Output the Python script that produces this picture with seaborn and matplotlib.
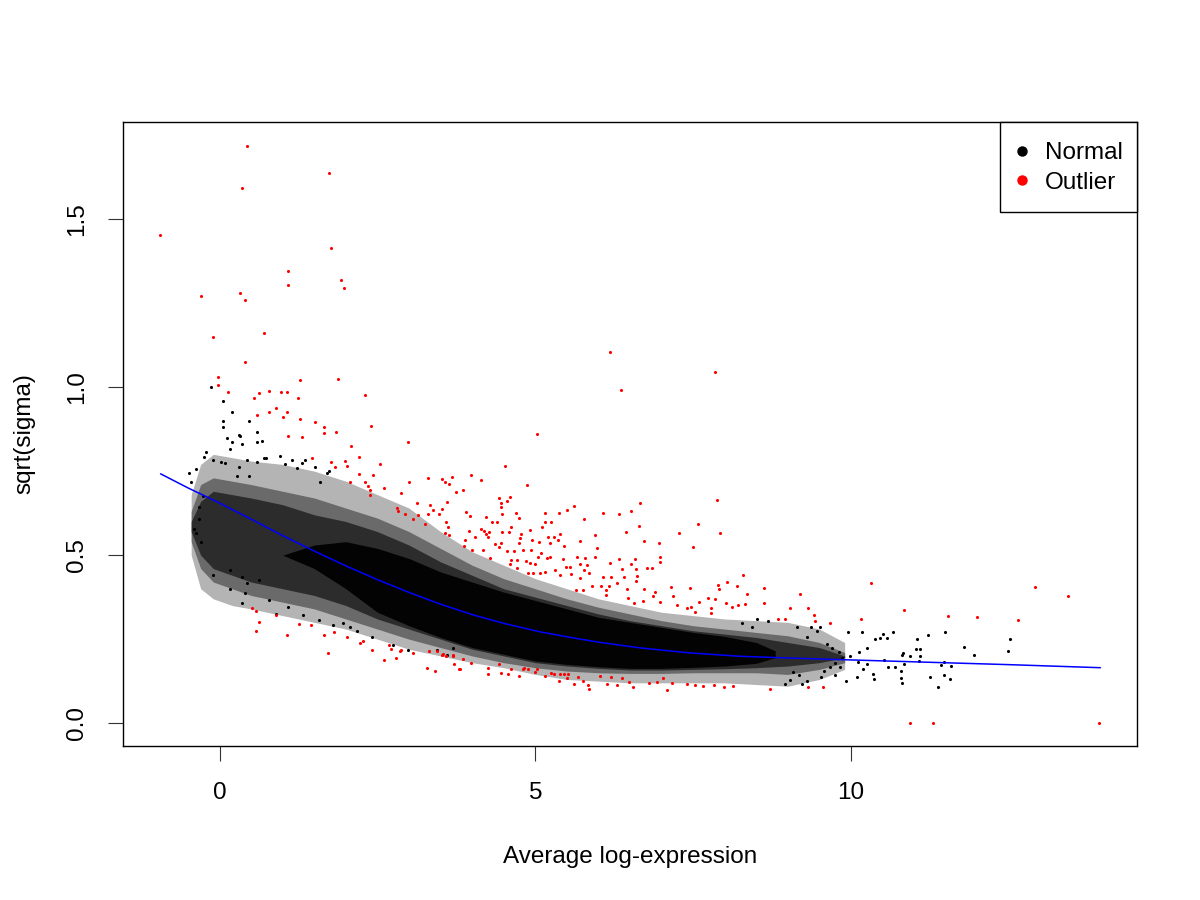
import numpy as np
import pandas as pd
import seaborn as sns
import matplotlib
matplotlib.use("Agg")
import matplotlib.pyplot as plt
from matplotlib.lines import Line2D
from matplotlib.patches import Rectangle

# ---------------- data ----------------
# dense cloud of "Normal" genes, described by density envelopes (x, lower, upper)
env_x = [-0.45, -0.3, -0.1, 0.2, 0.5, 1.0, 1.5, 2.0, 2.5, 3.0, 3.5, 4.0, 4.5, 5.0, 5.5, 6.0,
         6.5, 7.0, 7.5, 8.0, 8.5, 9.0, 9.5, 9.9]
outer_lo = [0.50, 0.40, 0.37, 0.35, 0.34, 0.32, 0.30, 0.28, 0.25, 0.22, 0.20, 0.18, 0.165, 0.145,
            0.13, 0.125, 0.12, 0.12, 0.12, 0.12, 0.115, 0.11, 0.13, 0.16]
outer_hi = [0.68, 0.77, 0.80, 0.79, 0.78, 0.77, 0.75, 0.72, 0.68, 0.64, 0.57, 0.51, 0.47, 0.43,
            0.40, 0.37, 0.35, 0.33, 0.32, 0.31, 0.305, 0.30, 0.28, 0.24]
mid_lo = [0.54, 0.46, 0.42, 0.40, 0.38, 0.36, 0.34, 0.31, 0.28, 0.25, 0.225, 0.20, 0.18, 0.165,
          0.155, 0.15, 0.148, 0.148, 0.15, 0.15, 0.15, 0.145, 0.16, 0.18]
mid_hi = [0.63, 0.71, 0.73, 0.72, 0.71, 0.69, 0.67, 0.64, 0.61, 0.57, 0.52, 0.47, 0.43, 0.40,
          0.37, 0.345, 0.325, 0.305, 0.29, 0.28, 0.27, 0.26, 0.24, 0.21]
inner_lo = [0.57, 0.50, 0.46, 0.44, 0.42, 0.40, 0.38, 0.35, 0.31, 0.28, 0.25, 0.22, 0.20, 0.18,
            0.17, 0.163, 0.158, 0.158, 0.16, 0.162, 0.165, 0.17, 0.18, 0.195]
inner_hi = [0.60, 0.66, 0.69, 0.68, 0.67, 0.65, 0.62, 0.60, 0.57, 0.53, 0.48, 0.44, 0.40, 0.375,
            0.35, 0.325, 0.305, 0.29, 0.275, 0.265, 0.255, 0.24, 0.225, 0.20]
core_x = [1.0, 1.5, 2.0, 2.5, 3.0, 3.5, 4.0, 4.5, 5.0, 5.5, 6.0, 6.5, 7.0, 7.5, 8.0, 8.5, 8.8]
core_lo = [0.50, 0.46, 0.40, 0.33, 0.29, 0.255, 0.225, 0.205, 0.185, 0.175, 0.168, 0.163, 0.163,
           0.166, 0.17, 0.178, 0.195]
core_hi = [0.50, 0.53, 0.54, 0.52, 0.49, 0.45, 0.42, 0.39, 0.365, 0.34, 0.315, 0.30, 0.285,
           0.27, 0.258, 0.24, 0.215]

# sparse "Normal" points around the cloud
normal_pts = [
    (-0.13, 1.0), (0.06, 0.958), (0.19, 0.925), (0.05, 0.90), (0.46, 0.90), (0.05, 0.88),
    (0.60, 0.866), (0.11, 0.85), (0.19, 0.836), (0.17, 0.815), (0.32, 0.854), (0.36, 0.830),
    (0.59, 0.836), (0.67, 0.839), (-0.21, 0.807), (-0.25, 0.792), (-0.10, 0.783), (-0.38, 0.756),
    (-0.49, 0.744), (-0.46, 0.717), (-0.27, 0.676), (-0.33, 0.643), (-0.40, 0.577), (-0.38, 0.565),
    (-0.29, 0.539), (-0.32, 0.607), (0.95, 0.795), (1.14, 0.783), (1.36, 0.783), (0.74, 0.789),
    (1.22, 0.759), (1.51, 0.762), (1.70, 0.744), (0.46, 0.735), (0.27, 0.735), (0.30, 0.857),
    (0.02, 0.777), (0.08, 0.774), (0.30, 0.762), (0.43, 0.783), (0.60, 0.777), (0.71, 0.789),
    (1.03, 0.771), (1.30, 0.774), (1.59, 0.717), (1.74, 0.750),
    (-0.11, 0.44), (0.17, 0.40), (0.41, 0.387), (0.36, 0.357), (0.79, 0.366), (0.90, 0.324),
    (1.08, 0.345), (1.32, 0.321), (1.58, 0.307), (1.79, 0.292), (2.06, 0.286), (2.17, 0.274),
    (1.95, 0.298), (2.42, 0.256), (2.74, 0.232), (2.98, 0.217), (3.44, 0.217), (3.60, 0.202),
    (3.69, 0.223), (0.36, 0.435), (0.43, 0.417), (0.63, 0.426), (0.16, 0.455),
    (9.95, 0.271), (10.17, 0.271), (10.38, 0.25), (10.46, 0.253), (10.57, 0.253), (10.51, 0.265),
    (10.67, 0.271), (11.05, 0.25), (11.22, 0.262), (11.49, 0.271), (11.79, 0.226), (11.95, 0.202),
    (12.49, 0.214), (12.52, 0.25), (11.03, 0.220), (11.09, 0.220), (10.82, 0.208), (10.81, 0.202),
    (10.93, 0.199), (11.09, 0.199), (11.08, 0.185), (11.47, 0.182), (11.43, 0.173), (11.58, 0.170),
    (10.84, 0.176), (10.70, 0.167), (10.59, 0.167), (10.79, 0.155), (10.35, 0.146), (10.36, 0.131),
    (10.10, 0.137), (9.92, 0.125), (10.19, 0.161), (10.25, 0.176), (10.11, 0.182), (10.52, 0.187),
    (10.81, 0.119), (10.79, 0.134), (11.25, 0.137), (11.38, 0.107), (11.47, 0.143), (11.57, 0.131),
    (10.25, 0.223), (10.13, 0.211), (9.98, 0.199), (9.86, 0.193), (9.75, 0.143),
    (9.62, 0.235), (9.70, 0.223), (9.81, 0.211), (9.75, 0.179), (9.67, 0.167), (9.83, 0.167),
    (9.57, 0.155), (9.52, 0.137), (9.30, 0.125), (9.51, 0.286), (9.46, 0.274), (9.37, 0.286),
    (9.30, 0.256), (9.18, 0.143), (9.03, 0.128), (8.95, 0.116), (9.22, 0.116), (9.08, 0.152),
    (9.14, 0.286), (8.51, 0.310), (8.68, 0.304), (8.27, 0.298), (8.43, 0.286),
]

# "Outlier" genes (red)
outlier_pts = [
    (0.44, 1.717), (1.74, 1.637), (0.35, 1.592), (-0.95, 1.452), (1.76, 1.414), (1.08, 1.345),
    (1.08, 1.304), (1.93, 1.318), (1.97, 1.295), (-0.30, 1.271), (0.32, 1.280), (0.41, 1.259),
    (-0.10, 1.149), (0.70, 1.161), (0.41, 1.074), (-0.03, 1.030), (-0.03, 1.006), (0.13, 0.985),
    (1.27, 1.021), (1.87, 1.024), (2.31, 0.976), (0.54, 0.967), (0.63, 0.982), (0.79, 0.988),
    (0.98, 0.985), (1.06, 0.985), (1.24, 0.967), (0.90, 0.938), (1.06, 0.926), (0.78, 0.926),
    (0.60, 0.917), (1.00, 0.911), (1.27, 0.905), (1.51, 0.896), (1.65, 0.881), (2.39, 0.884),
    (1.08, 0.854), (1.30, 0.851), (1.65, 0.863), (1.84, 0.866), (2.08, 0.824), (2.20, 0.792),
    (1.47, 0.789), (1.76, 0.777), (1.98, 0.780), (1.82, 0.762), (2.01, 0.765), (2.20, 0.741),
    (2.06, 0.717), (2.98, 0.836), (2.54, 0.771), (2.31, 0.717), (2.35, 0.705), (2.38, 0.693),
    (2.38, 0.679), (2.43, 0.738), (2.61, 0.699), (3.00, 0.717), (3.30, 0.729), (3.53, 0.726),
    (3.57, 0.717), (2.88, 0.685), (3.12, 0.655), (3.34, 0.649), (3.60, 0.658), (2.81, 0.640),
    (2.82, 0.631), (2.93, 0.622), (3.06, 0.607), (3.15, 0.619), (3.30, 0.622), (3.38, 0.634),
    (3.47, 0.622), (3.52, 0.637), (3.58, 0.598), (3.61, 0.583), (3.26, 0.592), (3.57, 0.565),
    (0.52, 0.342), (0.58, 0.333), (0.63, 0.301), (0.57, 0.274), (0.90, 0.321), (1.06, 0.262),
    (1.25, 0.295), (1.44, 0.292), (1.65, 0.262), (1.81, 0.271), (2.01, 0.256), (1.71, 0.208),
    (2.23, 0.238), (2.27, 0.244), (2.41, 0.217), (2.68, 0.232), (2.71, 0.220), (2.85, 0.214),
    (2.88, 0.217), (2.61, 0.188), (2.79, 0.193), (3.06, 0.208), (3.31, 0.214), (3.45, 0.214),
    (3.52, 0.202), (3.58, 0.199), (3.28, 0.164), (3.41, 0.155), (3.69, 0.199), (3.71, 0.176),
    (3.79, 0.161),
    (6.18, 1.104), (7.84, 1.045), (6.35, 0.991), (5.02, 0.860), (4.52, 0.765), (3.68, 0.732),
    (3.98, 0.738), (4.14, 0.723), (3.63, 0.711), (3.74, 0.688), (3.85, 0.693), (4.87, 0.708),
    (4.42, 0.670), (4.60, 0.673), (4.55, 0.661), (4.45, 0.655), (4.45, 0.643), (5.61, 0.646),
    (6.66, 0.655), (7.88, 0.664), (5.50, 0.634), (6.51, 0.631), (3.90, 0.628), (3.96, 0.616),
    (4.22, 0.613), (4.47, 0.622), (4.69, 0.625), (4.74, 0.610), (5.15, 0.625), (5.37, 0.625),
    (6.07, 0.625), (6.32, 0.622), (4.31, 0.598), (4.39, 0.598), (5.15, 0.598), (5.25, 0.598),
    (5.77, 0.607), (3.64, 0.560), (3.95, 0.571), (4.04, 0.554), (4.14, 0.577), (4.18, 0.571),
    (4.22, 0.563), (4.26, 0.568), (4.25, 0.554), (4.47, 0.568), (4.58, 0.568), (4.61, 0.583),
    (4.77, 0.563), (4.75, 0.551), (4.91, 0.574), (5.10, 0.583), (5.20, 0.554), (5.29, 0.554),
    (5.36, 0.545), (5.39, 0.563), (5.94, 0.560), (6.43, 0.568), (6.64, 0.586), (7.27, 0.565),
    (7.58, 0.592), (7.92, 0.565), (6.72, 0.542), (6.96, 0.536), (7.50, 0.524), (5.71, 0.542),
    (5.45, 0.527), (5.97, 0.521), (3.88, 0.545), (3.87, 0.527), (3.99, 0.515), (4.17, 0.515),
    (4.36, 0.533), (4.45, 0.536), (4.42, 0.524), (4.74, 0.536), (4.94, 0.545), (5.06, 0.539),
    (5.23, 0.536), (4.28, 0.491), (4.55, 0.512), (4.66, 0.512), (4.71, 0.485), (4.61, 0.485),
    (4.80, 0.515), (4.93, 0.515), (5.09, 0.506), (5.04, 0.494), (5.18, 0.491), (5.24, 0.494),
    (4.85, 0.482), (4.91, 0.476), (4.99, 0.473), (4.60, 0.473), (4.71, 0.461), (4.88, 0.446),
    (4.96, 0.446), (5.07, 0.446), (5.15, 0.449), (5.31, 0.455), (5.44, 0.488), (5.48, 0.464),
    (5.55, 0.464), (5.66, 0.494), (5.78, 0.491), (5.94, 0.494), (5.71, 0.473), (5.77, 0.455),
    (5.82, 0.470), (6.32, 0.488), (6.58, 0.488), (6.51, 0.473), (6.18, 0.476), (6.37, 0.458),
    (6.59, 0.458), (6.77, 0.461), (6.85, 0.461), (6.97, 0.494), (6.97, 0.479), (5.39, 0.440),
    (5.56, 0.443), (5.71, 0.432), (5.85, 0.446), (6.07, 0.435), (6.20, 0.435), (6.29, 0.417),
    (6.40, 0.435), (6.61, 0.438), (5.64, 0.396), (5.75, 0.396), (5.90, 0.408), (6.04, 0.408),
    (6.12, 0.396), (6.16, 0.408), (6.12, 0.381), (6.45, 0.399), (6.59, 0.423), (6.72, 0.399),
    (6.89, 0.390), (6.47, 0.372), (6.56, 0.357), (6.70, 0.363), (6.86, 0.378), (6.97, 0.360),
    (7.15, 0.405), (7.18, 0.378), (7.45, 0.402), (7.24, 0.351), (7.40, 0.342), (7.46, 0.345),
    (7.53, 0.330), (7.59, 0.360), (7.73, 0.372), (7.78, 0.342), (7.78, 0.327), (7.84, 0.369),
    (7.89, 0.411), (7.91, 0.399), (8.03, 0.420), (8.19, 0.408), (8.29, 0.440), (8.35, 0.384),
    (8.02, 0.357), (8.11, 0.345), (8.21, 0.351), (8.32, 0.354),
    (3.54, 0.205), (3.69, 0.202), (3.80, 0.161), (3.85, 0.190), (3.98, 0.179), (4.25, 0.146),
    (4.25, 0.164), (4.42, 0.176), (4.45, 0.149), (4.56, 0.146), (4.61, 0.161), (4.80, 0.161),
    (4.82, 0.164), (4.88, 0.161), (4.99, 0.152), (5.02, 0.161), (4.74, 0.140), (5.15, 0.140),
    (5.25, 0.149), (5.29, 0.146), (5.39, 0.146), (5.45, 0.146), (5.52, 0.146), (5.37, 0.125),
    (5.50, 0.134), (5.67, 0.137), (5.61, 0.116), (5.75, 0.125), (5.83, 0.113), (5.85, 0.101),
    (6.02, 0.140), (6.13, 0.116), (6.20, 0.137), (6.29, 0.113), (6.37, 0.134), (6.48, 0.122),
    (6.55, 0.107), (6.80, 0.119), (6.93, 0.122), (7.02, 0.134), (7.08, 0.098), (7.16, 0.119),
    (7.40, 0.116), (7.53, 0.113), (7.65, 0.110), (7.83, 0.113), (7.99, 0.107), (8.13, 0.110),
    (8.62, 0.402), (8.62, 0.357), (8.84, 0.310), (8.95, 0.310), (9.19, 0.384), (9.03, 0.342),
    (9.32, 0.342), (9.41, 0.321), (9.43, 0.304), (9.67, 0.298), (10.16, 0.310), (10.32, 0.417),
    (10.84, 0.336), (11.54, 0.318), (12.00, 0.315), (12.65, 0.307), (12.92, 0.405), (13.44, 0.378),
    (8.72, 0.101), (9.32, 0.107), (9.56, 0.107), (10.94, 0.0), (11.30, 0.0), (13.93, 0.0),
]

# lowess trend line
trend_x = [-0.935, -0.5, 0.0, 0.5, 1.0, 1.5, 2.0, 2.5, 3.0, 3.5, 4.0, 4.5, 5.07, 5.5, 6.0,
           6.66, 7.45, 8.24, 9.0, 9.67, 11.09, 12.52, 13.95]
trend_y = [0.742, 0.700, 0.655, 0.607, 0.558, 0.512, 0.468, 0.427, 0.389, 0.354, 0.323, 0.297,
           0.272, 0.257, 0.241, 0.224, 0.209, 0.199, 0.194, 0.190, 0.182, 0.174, 0.165]

x_ticks = [0, 5, 10]
y_ticks = [0.0, 0.5, 1.0, 1.5]
x_label = "Average log-expression"
y_label = "sqrt(sigma)"
legend_labels = ["Normal", "Outlier"]

# ---------------- plotting ----------------
sns.set_style("ticks")
plt.rcParams['font.family'] = ['Liberation Sans', 'DejaVu Sans']
plt.rcParams['text.color'] = 'black'
plt.rcParams['axes.labelcolor'] = 'black'

fig = plt.figure(figsize=(12, 9), dpi=100)
ax = fig.add_axes([123/1200, 1 - 746/900, (1137-123)/1200, (746-122)/900])

ax.fill_between(env_x, outer_lo, outer_hi, color="#b4b4b4", linewidth=0)
ax.fill_between(env_x, mid_lo, mid_hi, color="#6a6a6a", linewidth=0)
ax.fill_between(env_x, inner_lo, inner_hi, color="#2c2c2c", linewidth=0)
ax.fill_between(core_x, core_lo, core_hi, color="#030303", linewidth=0)

normal_df = pd.DataFrame(normal_pts, columns=["x", "y"])
outlier_df = pd.DataFrame(outlier_pts, columns=["x", "y"])
sns.scatterplot(data=normal_df, x="x", y="y", color="black", s=5, linewidth=0, ax=ax, legend=False)
sns.scatterplot(data=outlier_df, x="x", y="y", color="#FF0000", s=5, linewidth=0, ax=ax, legend=False)

trend_df = pd.DataFrame({"x": trend_x, "y": trend_y})
sns.lineplot(data=trend_df, x="x", y="y", color="#0000FF", linewidth=1.1, sort=False,
             estimator=None, ax=ax)

ax.set_xlim(-1.53, 14.53)
ax.set_ylim(-0.068, 1.789)
ax.set_xticks(x_ticks)
ax.set_xticklabels([str(t) for t in x_ticks])
ax.set_yticks(y_ticks)
ax.set_yticklabels([f"{t:.1f}" for t in y_ticks], rotation=90, va="center")
ax.tick_params(axis="both", direction="out", length=11, width=0.8, color="#333333",
               labelsize=17.5, labelcolor="black")
ax.tick_params(axis="x", pad=15)
ax.tick_params(axis="y", pad=14)
for sp in ax.spines.values():
    sp.set_visible(True)
    sp.set_linewidth(1.0)
    sp.set_color("black")

ax.set_xlabel(x_label, fontsize=17.5, labelpad=30, color="black")
ax.set_ylabel(y_label, fontsize=17.5, labelpad=22, color="black")

# legend: frame drawn as a rectangle in axes fraction, entries placed inside
ax.add_patch(Rectangle(((1000 - 123) / 1014, (746 - 212) / 624), 137 / 1014, 90 / 624,
                       transform=ax.transAxes, facecolor="white", edgecolor="black",
                       linewidth=1.0, zorder=5, clip_on=False))
handles = [Line2D([0], [0], marker="o", linestyle="", color="black", markersize=6.5),
           Line2D([0], [0], marker="o", linestyle="", color="#FF0000", markersize=6.5)]
leg = ax.legend(handles, legend_labels, loc="center left",
                bbox_to_anchor=((1010 - 123) / 1014, (746 - 168) / 624),
                frameon=False, fontsize=17.5, handletextpad=0.45, handlelength=1.0,
                borderpad=0.0, borderaxespad=0.0, labelspacing=0.32)
leg.set_zorder(6)
for t in leg.get_texts():
    t.set_color("black")

fig.savefig("out.png", dpi=100)
